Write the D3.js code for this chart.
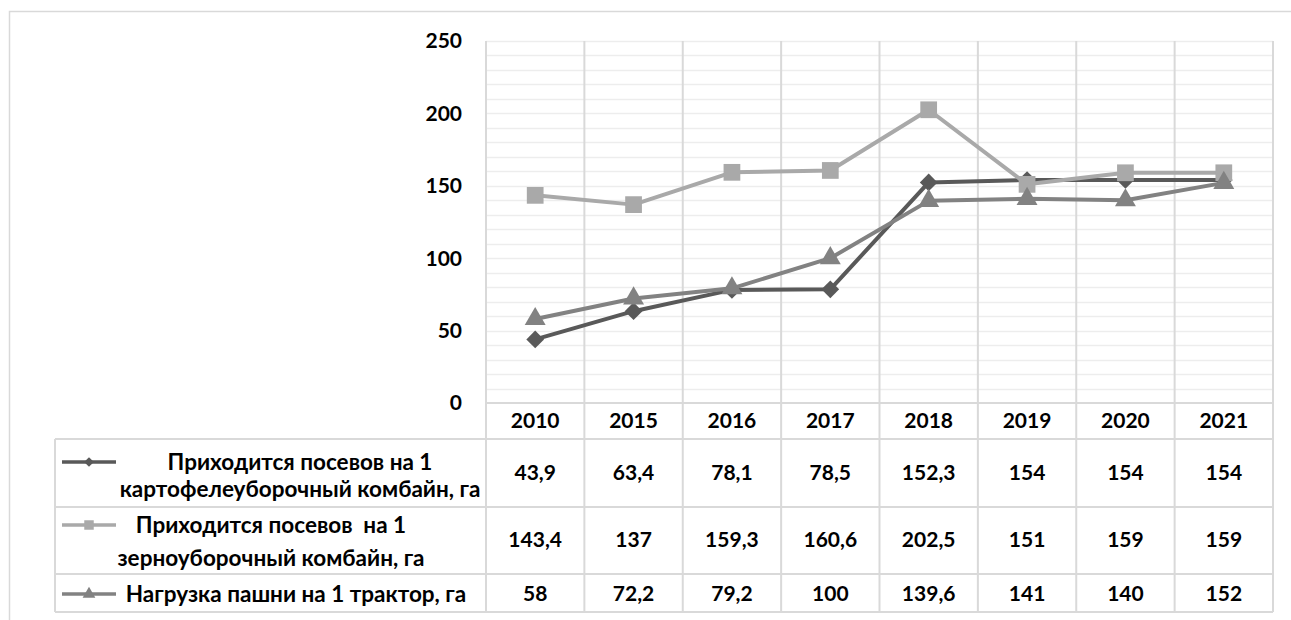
<!DOCTYPE html>
<html>
<head>
<meta charset="utf-8">
<script src="https://cdn.jsdelivr.net/npm/d3@7"></script>
<style>
  body { margin: 0; background: #fff; }
  text { font-family: Lato, "Open Sans", sans-serif; font-weight: bold; fill: #000; }
</style>
</head>
<body>
<div id="chart"></div>
<script>
// data
var years = ["2010", "2015", "2016", "2017", "2018", "2019", "2020", "2021"];
var potatoCombine = [43.9, 63.4, 78.1, 78.5, 152.3, 154, 154, 154];
var grainCombine = [143.4, 137, 159.3, 160.6, 202.5, 151, 159, 159];
var tractorLoad = [58, 72.2, 79.2, 100, 139.6, 141, 140, 152];
var seriesNames = [
  ["Приходится посевов на 1", "картофелеуборочный комбайн, га"],
  ["Приходится посевов  на 1", "зерноуборочный комбайн, га"],
  ["Нагрузка пашни на 1 трактор, га"]
];
var yTicks = [0, 50, 100, 150, 200, 250];

var W = 1291, H = 620;
var plot = {left: 486, right: 1273, top: 41, bottom: 403};
var tableLeft = 55;
var rowEdges = [403, 439, 507, 574, 612];

var series = [
  {values: potatoCombine, color: "#595959", symbol: d3.symbolDiamond2, size: 200, legendSize: 60},
  {values: grainCombine, color: "#a9a9a9", symbol: d3.symbolSquare, size: 280, legendSize: 90},
  {values: tractorLoad, color: "#828282", symbol: d3.symbolTriangle, size: 190, legendSize: 70}
];
// legend text centers and line positions per row
var legendLayout = [
  {markerY: 462, textX: 300, textY: [462, 489], valueY: 473},
  {markerY: 525, textX: 271, textY: [525, 558], valueY: 540},
  {markerY: 594, textX: 296, textY: [594], valueY: 594}
];

var svg = d3.select("#chart").append("svg")
    .attr("width", W)
    .attr("height", H);

// outer frame
svg.append("path")
    .attr("d", "M9.5," + H + "V11.5H" + W)
    .attr("fill", "none")
    .attr("stroke", "#d9d9d9")
    .attr("stroke-width", 1.5);

var x = d3.scaleBand().domain(years).range([plot.left, plot.right]);
var y = d3.scaleLinear().domain([0, 250]).range([plot.bottom, plot.top]);

// minor gridlines every 10
svg.append("g")
    .selectAll("line")
    .data(d3.range(10, 251, 10))
    .join("line")
    .attr("x1", plot.left).attr("x2", plot.right)
    .attr("y1", function(d) { return Math.round(y(d)) + 0.5; })
    .attr("y2", function(d) { return Math.round(y(d)) + 0.5; })
    .attr("stroke", "#ededed")
    .attr("stroke-width", 1.5);

// vertical category lines through plot + table
svg.append("g")
    .selectAll("line")
    .data(years.concat(["end"]))
    .join("line")
    .attr("x1", function(d, i) { return i < years.length ? x(d) : plot.right; })
    .attr("x2", function(d, i) { return i < years.length ? x(d) : plot.right; })
    .attr("y1", plot.top)
    .attr("y2", rowEdges[rowEdges.length - 1])
    .attr("stroke", "#d9d9d9")
    .attr("stroke-width", 2);

// table horizontal lines
svg.append("g")
    .selectAll("line")
    .data(rowEdges)
    .join("line")
    .attr("x1", function(d, i) { return i === 0 ? plot.left : tableLeft; })
    .attr("x2", plot.right)
    .attr("y1", function(d) { return d; })
    .attr("y2", function(d) { return d; })
    .attr("stroke", "#d9d9d9")
    .attr("stroke-width", 2);

svg.append("line")
    .attr("x1", tableLeft).attr("x2", tableLeft)
    .attr("y1", rowEdges[1]).attr("y2", rowEdges[4])
    .attr("stroke", "#d9d9d9")
    .attr("stroke-width", 2);

// y axis labels
svg.append("g")
    .selectAll("text")
    .data(yTicks)
    .join("text")
    .attr("x", 462)
    .attr("y", function(d) { return y(d); })
    .attr("dy", "0.35em")
    .attr("text-anchor", "end")
    .style("font-size", "21px")
    .text(function(d) { return d; });

// year header
svg.append("g")
    .selectAll("text")
    .data(years)
    .join("text")
    .attr("x", function(d) { return x(d) + x.bandwidth() / 2; })
    .attr("y", 421)
    .attr("dy", "0.35em")
    .attr("text-anchor", "middle")
    .style("font-size", "21px")
    .text(function(d) { return d; });

var line = d3.line()
    .x(function(d, i) { return x(years[i]) + x.bandwidth() / 2; })
    .y(function(d) { return y(d); });

var fmt = function(v) { return String(v).replace(".", ","); };

series.forEach(function(s, k) {
  var g = svg.append("g");
  g.append("path")
      .datum(s.values)
      .attr("d", line)
      .attr("fill", "none")
      .attr("stroke", s.color)
      .attr("stroke-width", 4)
      .attr("stroke-linejoin", "round");
  g.selectAll(".mark")
      .data(s.values)
      .join("path")
      .attr("class", "mark")
      .attr("transform", function(d, i) {
        return "translate(" + (x(years[i]) + x.bandwidth() / 2) + "," + y(d) + ")";
      })
      .attr("d", d3.symbol().type(s.symbol).size(s.size))
      .attr("fill", s.color);

  // table row
  var L = legendLayout[k];
  svg.append("line")
      .attr("x1", 62).attr("x2", 116)
      .attr("y1", L.markerY).attr("y2", L.markerY)
      .attr("stroke", s.color)
      .attr("stroke-width", 3.5);
  svg.append("path")
      .attr("transform", "translate(89," + L.markerY + ")")
      .attr("d", d3.symbol().type(s.symbol).size(s.legendSize))
      .attr("fill", s.color);
  svg.append("g")
      .selectAll("text")
      .data(seriesNames[k])
      .join("text")
      .attr("x", L.textX)
      .attr("y", function(d, i) { return L.textY[i]; })
      .attr("dy", "0.35em")
      .attr("text-anchor", "middle")
      .style("font-size", "22.5px")
      .style("white-space", "pre")
      .text(function(d) { return d; });
  svg.append("g")
      .selectAll("text")
      .data(s.values)
      .join("text")
      .attr("x", function(d, i) { return x(years[i]) + x.bandwidth() / 2; })
      .attr("y", L.valueY)
      .attr("dy", "0.35em")
      .attr("text-anchor", "middle")
      .style("font-size", "21px")
      .text(fmt);
});
</script>
</body>
</html>
